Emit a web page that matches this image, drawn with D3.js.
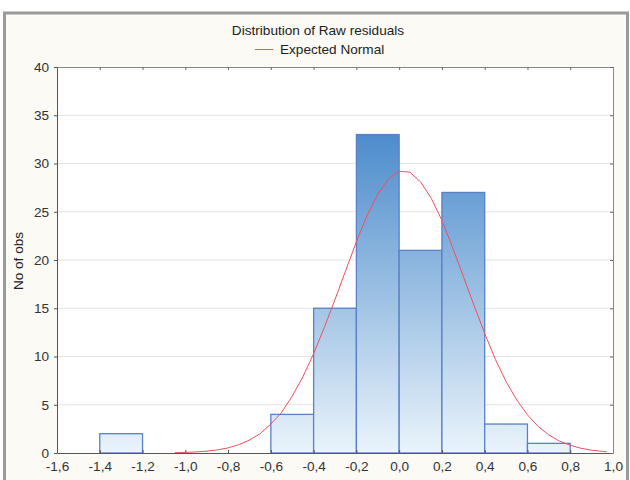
<!DOCTYPE html>
<html>
<head>
<meta charset="utf-8">
<script src="https://cdn.jsdelivr.net/npm/d3@7"></script>
<style>
  body { margin: 0; background: #fff; }
  text { font-family: "Liberation Sans", Arial, sans-serif; }
</style>
</head>
<body>
<svg id="chart" width="630" height="480"></svg>
<script>
// histogram bins (lower edge, upper edge, count)
const binLo = [-1.4, -0.6, -0.4, -0.2, 0.0, 0.2, 0.4, 0.6];
const binHi = [-1.2, -0.4, -0.2, 0.0, 0.2, 0.4, 0.6, 0.8];
const counts = [2, 4, 15, 33, 21, 27, 3, 1];

// expected normal curve
const curveX = [-1.05, -1.0, -0.95, -0.9, -0.85, -0.8, -0.75, -0.7, -0.65, -0.6, -0.55, -0.5,
  -0.45, -0.4, -0.35, -0.3, -0.25, -0.2, -0.15, -0.1, -0.05, 0.0, 0.05, 0.1, 0.15, 0.2,
  0.25, 0.3, 0.35, 0.4, 0.45, 0.5, 0.55, 0.6, 0.65, 0.7, 0.75, 0.8, 0.85, 0.9, 0.95, 0.97];
const curveY = [0.03, 0.06, 0.11, 0.19, 0.32, 0.53, 0.86, 1.34, 2.0, 3.0, 4.2, 5.9,
  7.9, 10.3, 13.0, 15.9, 18.9, 21.9, 24.6, 26.8, 28.4, 29.2, 29.1, 28.1, 26.4, 24.1,
  21.3, 18.3, 15.3, 12.4, 9.7, 7.4, 5.5, 3.95, 2.75, 1.87, 1.23, 0.8, 0.49, 0.29, 0.17, 0.13];

const xTicks = [-1.6, -1.4, -1.2, -1.0, -0.8, -0.6, -0.4, -0.2, 0.0, 0.2, 0.4, 0.6, 0.8, 1.0];
const yTicks = [0, 5, 10, 15, 20, 25, 30, 35, 40];

let svg = d3.select('#chart');

// outer frame
svg.append('rect').attr('x', 4.5).attr('y', 13).attr('width', 623).attr('height', 480)
  .attr('fill', '#fbfaf5').attr('stroke', '#9a9a9a').attr('stroke-width', 3);

let x = d3.scaleLinear([-1.6, 1.0], [57, 613]);
let y = d3.scaleLinear([0, 40], [453, 67]);

// plot area
svg.append('rect').attr('x', 57).attr('y', 67).attr('width', 556).attr('height', 386)
  .attr('fill', '#fff');

// gridlines
svg.append('g').selectAll('line').data(yTicks.slice(1, -1)).join('line')
  .attr('x1', 57).attr('x2', 613)
  .attr('y1', d => y(d)).attr('y2', d => y(d))
  .attr('stroke', '#e4e4e4');

// gradient for bars
let grad = svg.append('defs').append('linearGradient').attr('id', 'barGrad')
  .attr('gradientUnits', 'userSpaceOnUse')
  .attr('x1', 0).attr('x2', 0).attr('y1', y(0)).attr('y2', y(33));
grad.append('stop').attr('offset', 0).attr('stop-color', '#eaf4fb');
grad.append('stop').attr('offset', 1).attr('stop-color', '#4d8ccc');

svg.append('g').selectAll('rect').data(counts).join('rect')
  .attr('x', (d, i) => x(binLo[i]))
  .attr('width', (d, i) => x(binHi[i]) - x(binLo[i]))
  .attr('y', d => y(d))
  .attr('height', d => y(0) - y(d))
  .attr('fill', 'url(#barGrad)')
  .attr('stroke', '#5a80c8').attr('stroke-width', 1.3);

// normal curve
let line = d3.line().x(d => x(d[0])).y(d => y(d[1]));
svg.append('path').datum(curveX.map((v, i) => [v, curveY[i]]))
  .attr('d', line).attr('fill', 'none')
  .attr('stroke', '#f0505a').attr('stroke-width', 1);

// axes
let fmt = d => d3.format('.1f')(d).replace('.', ',').replace('−', '-');
let xAxis = d3.axisBottom(x).tickValues(xTicks).tickFormat(fmt).tickSizeInner(-3).tickSizeOuter(0).tickPadding(8);
let gx = svg.append('g').attr('transform', 'translate(0,453)').call(xAxis);
let yAxis = d3.axisLeft(y).tickValues(yTicks).tickSizeInner(3).tickSizeOuter(0).tickPadding(5);
let gy = svg.append('g').attr('transform', 'translate(57,0)').call(yAxis);
[gx, gy].forEach(g => {
  g.selectAll('text').attr('font-size', 13.6).attr('fill', '#333').attr('font-family', '"Liberation Sans", Arial, sans-serif');
  g.selectAll('line').attr('stroke', '#555');
  g.select('.domain').attr('stroke', '#555');
});
// top and right ticks
let gt = svg.append('g').attr('transform', 'translate(0,67)')
  .call(d3.axisTop(x).tickValues(xTicks).tickFormat('').tickSizeInner(-3).tickSizeOuter(0));
let gr = svg.append('g').attr('transform', 'translate(613,0)')
  .call(d3.axisRight(y).tickValues(yTicks).tickFormat('').tickSizeInner(-3).tickSizeOuter(0));
[gt, gr].forEach(g => {
  g.selectAll('line').attr('stroke', '#666');
  g.select('.domain').attr('stroke', '#888');
});

// title & legend
svg.append('text').attr('x', 318).attr('y', 35).attr('text-anchor', 'middle')
  .attr('font-size', 13.6).attr('fill', '#222').text('Distribution of Raw residuals');
svg.append('line').attr('x1', 255).attr('x2', 273).attr('y1', 49.5).attr('y2', 49.5)
  .attr('stroke', '#f0505a').attr('stroke-width', 1);
svg.append('text').attr('x', 280).attr('y', 54)
  .attr('font-size', 13.6).attr('fill', '#222').text('Expected Normal');

// y label
svg.append('text').attr('transform', 'translate(23,261) rotate(-90)')
  .attr('text-anchor', 'middle').attr('font-size', 13.6).attr('fill', '#222').text('No of obs');
</script>
</body>
</html>
